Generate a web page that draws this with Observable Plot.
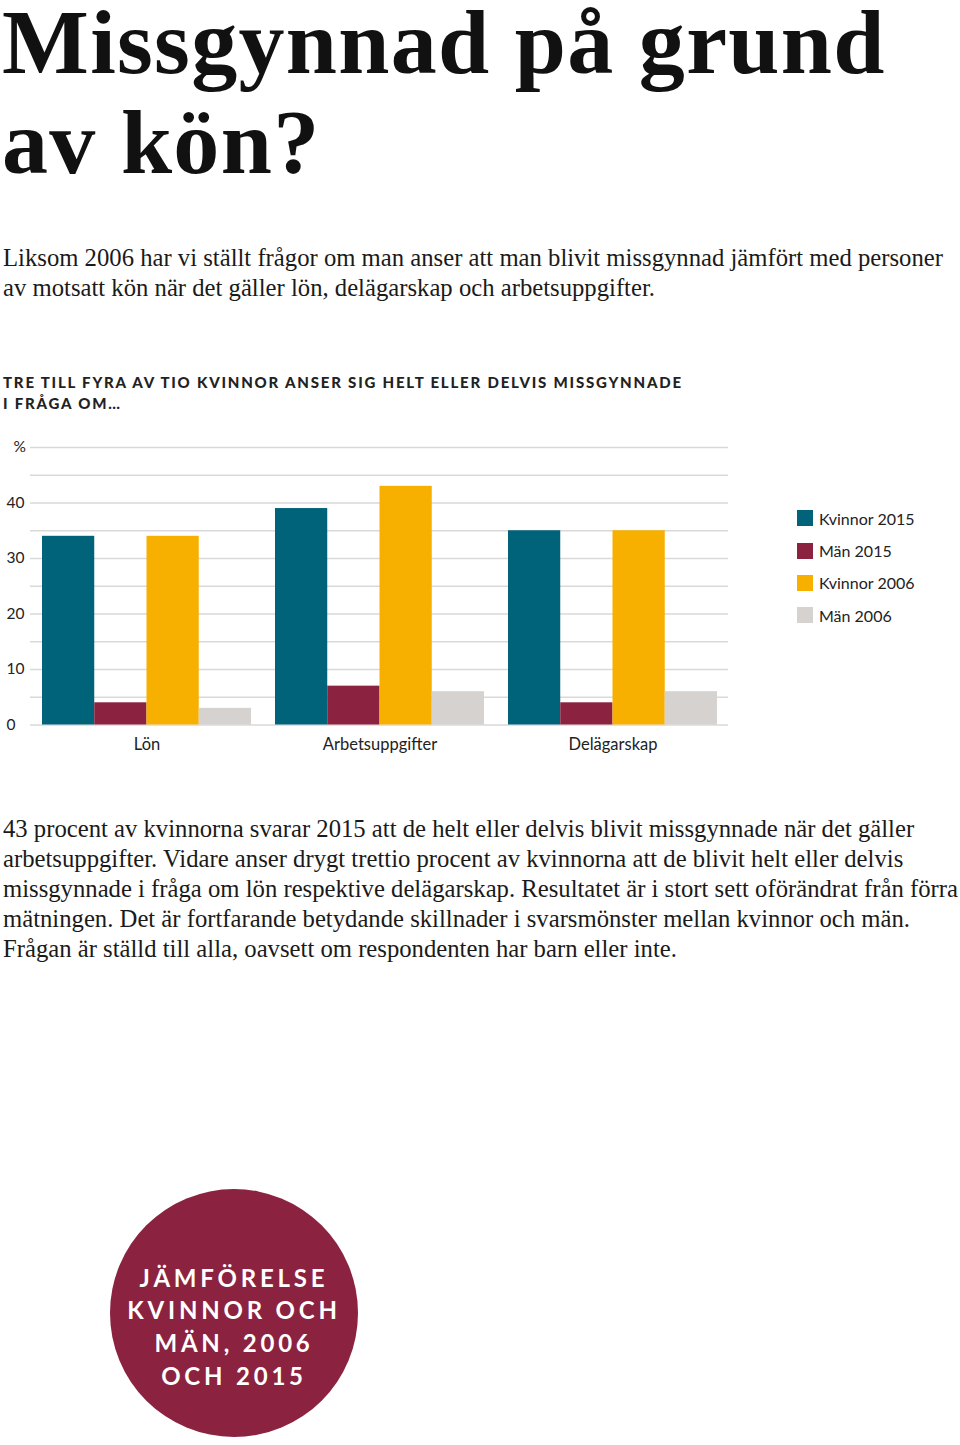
<!DOCTYPE html>
<html><head><meta charset="utf-8">
<script src="https://cdn.jsdelivr.net/npm/d3@7"></script>
<script src="https://cdn.jsdelivr.net/npm/@observablehq/plot@0.6"></script>
<style>
body{margin:0;background:#fff;}
#page{position:relative;width:960px;height:1445px;overflow:hidden;font-family:Lato,sans-serif;color:#1a1a1a;}
.title{position:absolute;left:2px;font-family:"Liberation Serif",serif;font-weight:bold;font-size:92px;letter-spacing:1.3px;line-height:82px;height:82px;color:#111;white-space:nowrap;}
.body{position:absolute;left:3px;font-family:"Liberation Serif",serif;font-size:24.7px;line-height:30px;color:#1a1a1a;white-space:nowrap;}
.heading{position:absolute;left:3px;top:372px;font-family:Lato,sans-serif;font-weight:900;font-size:15px;letter-spacing:1.8px;line-height:21px;color:#222;white-space:nowrap;}
#chart{position:absolute;left:0;top:420px;}
#legend{position:absolute;left:797px;top:502px;}
.li{display:flex;align-items:center;height:32.4px;font-size:16px;color:#222;white-space:nowrap;}
.sw{width:16px;height:16px;margin-right:6px;flex:none;}
.badge{position:absolute;left:110px;top:1189px;width:248px;height:248px;box-sizing:border-box;padding-top:28px;border-radius:50%;background:#8b2340;color:#fff;display:flex;align-items:center;justify-content:center;text-align:center;font-family:Lato,sans-serif;font-weight:700;font-size:24px;letter-spacing:3.8px;line-height:32.7px;}
</style></head>
<body><div id="page">
<div class="title" style="top:1px">Missgynnad på grund</div>
<div class="title" style="top:101px">av kön?</div>
<div class="body" style="top:243px">Liksom 2006 har vi ställt frågor om man anser att man blivit missgynnad jämfört med personer<br>av motsatt kön när det gäller lön, delägarskap och arbetsuppgifter.</div>
<div class="heading">TRE TILL FYRA AV TIO KVINNOR ANSER SIG HELT ELLER DELVIS MISSGYNNADE<br>I FRÅGA OM…</div>
<div id="chart"></div>
<div id="legend"></div>
<div class="body" style="top:814px">43 procent av kvinnorna svarar 2015 att de helt eller delvis blivit missgynnade när det gäller<br>arbetsuppgifter. Vidare anser drygt trettio procent av kvinnorna att de blivit helt eller delvis<br>missgynnade i fråga om lön respektive delägarskap. Resultatet är i stort sett oförändrat från förra<br>mätningen. Det är fortfarande betydande skillnader i svarsmönster mellan kvinnor och män.<br>Frågan är ställd till alla, oavsett om respondenten har barn eller inte.</div>
<div class="badge"><div>JÄMFÖRELSE<br>KVINNOR OCH<br>MÄN, 2006<br>OCH 2015</div></div>
</div>
<script>
const categories = ["Lön", "Arbetsuppgifter", "Delägarskap"];
const series = ["Kvinnor 2015", "Män 2015", "Kvinnor 2006", "Män 2006"];
const colors = ["#00637a", "#8b2340", "#f8b000", "#d6d2cf"];
const kvinnor2015 = [34, 39, 35];
const man2015 = [4, 7, 4];
const kvinnor2006 = [34, 43, 35];
const man2006 = [3, 6, 6];
const yTicks = [0, 10, 20, 30, 40];
const gridValues = [0, 5, 10, 15, 20, 25, 30, 35, 40, 45, 50];

const seriesValues = [kvinnor2015, man2015, kvinnor2006, man2006];
const data = [];
series.forEach((s, i) => categories.forEach((c, j) => data.push({category: c, series: s, value: seriesValues[i][j]})));

const width = 960, marginLeft = 30, marginRight = 232;
const pIn = 0.105, pOut = 0.047;
const step = (width - marginLeft - marginRight) / (categories.length - pIn + 2 * pOut);
const bw = step * (1 - pIn) / series.length;

const chart = Plot.plot({
  width, height: 340,
  marginTop: 27, marginBottom: 35.5, marginLeft, marginRight,
  style: {fontFamily: "Lato, sans-serif", fontSize: "15px", color: "#222", background: "transparent"},
  x: {domain: categories, paddingInner: pIn, paddingOuter: pOut, axis: null, label: null},
  y: {domain: [0, 50], axis: null, label: null},
  color: {domain: series, range: colors},
  marks: [
    Plot.ruleY(gridValues, {stroke: "#d9d9d9", strokeWidth: 1.5}),
    ...series.map((s, i) => Plot.barY(data.filter(d => d.series === s), {
      x: "category", y: "value", fill: "series",
      insetLeft: i * bw, insetRight: (series.length - 1 - i) * bw
    })),
    Plot.axisY({ticks: yTicks, tickSize: 0, tickPadding: 24, textAnchor: "start", fontSize: 15.5, label: null}),
    Plot.axisY({ticks: [50], tickFormat: () => "%", tickSize: 0, tickPadding: 17, textAnchor: "start", fontSize: 15.5, label: null}),
    Plot.axisX({tickSize: 0, tickPadding: 13, fontSize: 16.5, label: null})
  ]
});
document.getElementById("chart").appendChild(chart);

const legend = document.getElementById("legend");
series.forEach((s, i) => {
  const row = document.createElement("div");
  row.className = "li";
  row.innerHTML = `<span class="sw" style="background:${colors[i]}"></span><span>${s}</span>`;
  legend.appendChild(row);
});
</script>
</body></html>
